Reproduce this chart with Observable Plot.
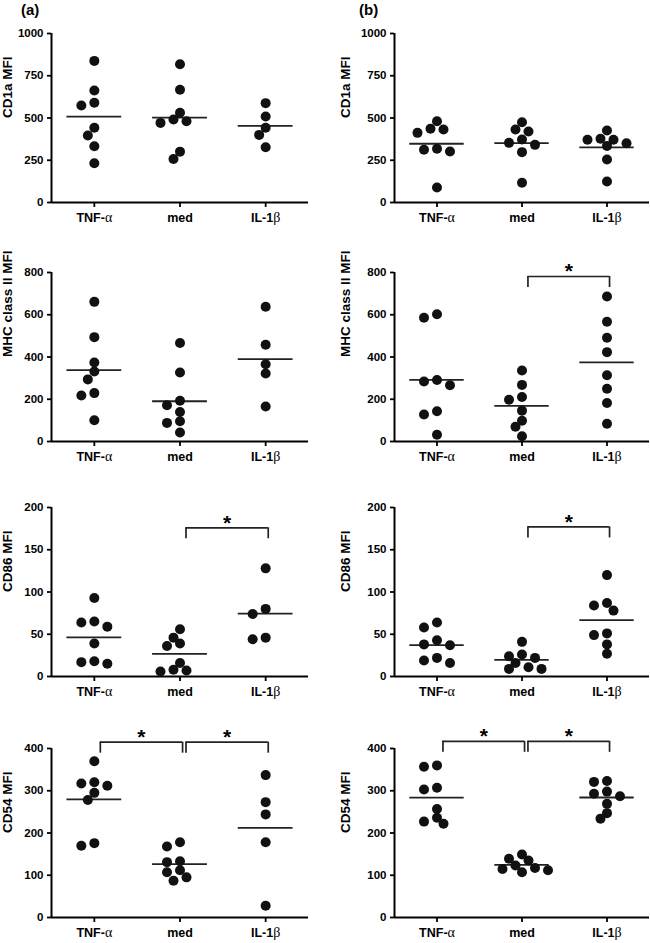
<!DOCTYPE html>
<html><head><meta charset="utf-8">
<script src="https://cdn.jsdelivr.net/npm/d3@7"></script>
<script src="https://cdn.jsdelivr.net/npm/@observablehq/plot@0.6"></script>
<style>
html,body{margin:0;padding:0;background:#fff;}
body{font-family:"Liberation Sans",Arial,sans-serif;}
#fig{position:relative;width:650px;height:943px;overflow:hidden;}
.panel{position:absolute;}
.tag{position:absolute;font-weight:bold;font-size:15px;color:#000;}
</style></head>
<body><div id="fig"></div>
<script>
// categories
const groups = ["TNF-α", "med", "IL-1β"];
const panelTags = ["(a)", "(b)"];
const titles = ["CD1a MFI", "MHC class II MFI", "CD86 MFI", "CD54 MFI"];
// y tick labels
const yTicks_cd1a = [0, 250, 500, 750, 1000];
const yTicks_mhc = [0, 200, 400, 600, 800];
const yTicks_cd86 = [0, 50, 100, 150, 200];
const yTicks_cd54 = [0, 100, 200, 300, 400];
// values per group [TNF-α, med, IL-1β]
const a_cd1a = [[838, 663, 590, 574, 442, 396, 333, 232], [818, 667, 531, 491, 481, 471, 301, 257], [588, 509, 442, 400, 327]];
const b_cd1a = [[481, 436, 432, 412, 318, 312, 302, 89], [475, 432, 420, 373, 353, 341, 298, 117], [426, 377, 371, 371, 351, 335, 254, 124]];
const a_mhc = [[661, 494, 374, 331, 294, 229, 218, 101], [466, 327, 193, 172, 140, 96, 88, 43], [638, 458, 366, 322, 166]];
const b_mhc = [[602, 586, 291, 284, 266, 143, 128, 32], [336, 268, 211, 198, 146, 98, 70, 25], [686, 567, 491, 423, 314, 250, 182, 84]];
const a_cd86 = [[93, 65, 64, 59, 39, 18, 17, 15], [56, 46, 39, 36, 16, 8, 7, 6], [128, 80, 74, 46, 44]];
const b_cd86 = [[64, 58, 43, 38, 37, 22, 19, 16], [41, 26, 24, 22, 16, 11, 9, 9], [120, 87, 84, 78, 51, 49, 38, 27]];
const a_cd54 = [[370, 320, 317, 312, 295, 278, 176, 170], [178, 168, 133, 131, 112, 107, 95, 87], [337, 273, 244, 178, 28]];
const b_cd54 = [[360, 357, 307, 303, 257, 236, 227, 222], [149, 139, 135, 123, 117, 115, 112, 107], [323, 321, 298, 293, 287, 269, 247, 234]];
// significance brackets (level in data units)
const sig_b_mhc = [{from: "med", to: "IL-1β", level: 781}];
const sig_a_cd86 = [{from: "med", to: "IL-1β", level: 176}];
const sig_b_cd86 = [{from: "med", to: "IL-1β", level: 177}];
const sig_a_cd54 = [{from: "TNF-α", to: "med", level: 415}, {from: "med", to: "IL-1β", level: 415}];
const sig_b_cd54 = [{from: "TNF-α", to: "med", level: 417}, {from: "med", to: "IL-1β", level: 417}];

const panels = [
  {col: 0, row: 0, data: a_cd1a, ticks: yTicks_cd1a, title: titles[0], sig: []},
  {col: 1, row: 0, data: b_cd1a, ticks: yTicks_cd1a, title: titles[0], sig: []},
  {col: 0, row: 1, data: a_mhc, ticks: yTicks_mhc, title: titles[1], sig: []},
  {col: 1, row: 1, data: b_mhc, ticks: yTicks_mhc, title: titles[1], sig: sig_b_mhc},
  {col: 0, row: 2, data: a_cd86, ticks: yTicks_cd86, title: titles[2], sig: sig_a_cd86},
  {col: 1, row: 2, data: b_cd86, ticks: yTicks_cd86, title: titles[2], sig: sig_b_cd86},
  {col: 0, row: 3, data: a_cd54, ticks: yTicks_cd54, title: titles[3], sig: sig_a_cd54},
  {col: 1, row: 3, data: b_cd54, ticks: yTicks_cd54, title: titles[3], sig: sig_b_cd54}
];

// layout
const rowLayout = [{top: 0, mt: 33}, {top: 235, mt: 37}, {top: 470, mt: 37}, {top: 710, mt: 38}];
const colLayout = [{left: 0, ml: 51, mr: 17, titleDx: -44}, {left: 325, ml: 69, mr: 1, titleDx: -49}];
const W = 325, FH = 169, MB = 26;
const ink = "#111";

function dodge(vals, pxPerUnit) {
  const order = vals.map((v, i) => i).sort((a, b) => vals[b] - vals[a]);
  const cands = [0];
  for (let k = 1; k <= 10; k++) cands.push(-k * 6.5, k * 6.5);
  const placed = [], off = new Array(vals.length).fill(0);
  for (const i of order) {
    const y = vals[i] * pxPerUnit;
    for (const c of cands) {
      if (placed.every(p => Math.hypot(p.x - c, p.y - y) >= 8.5)) {
        off[i] = c; placed.push({x: c, y}); break;
      }
    }
  }
  return off;
}

const fig = document.getElementById("fig");
const NS = "http://www.w3.org/2000/svg";

for (const p of panels) {
  const R = rowLayout[p.row], C = colLayout[p.col];
  const ymax = p.ticks[p.ticks.length - 1];
  const height = R.mt + FH + MB;
  const step = (W - C.ml - C.mr) / 3;
  const pxPerUnit = FH / ymax;
  const points = [], means = [];
  p.data.forEach((vals, gi) => {
    const off = dodge(vals, pxPerUnit);
    vals.forEach((v, i) => points.push({gi, v, x: gi + off[i] / step}));
    means.push({gi, mean: d3.mean(vals)});
  });
  const sig = p.sig.map(s => ({i1: groups.indexOf(s.from), i2: groups.indexOf(s.to), level: s.level}));
  const ends = sig.flatMap(s => [{x: s.i1 + 0.07, level: s.level}, {x: s.i2 + 0.03, level: s.level}]);
  const drop = 11 / pxPerUnit;

  const plot = Plot.plot({
    width: W, height,
    marginTop: R.mt, marginBottom: MB, marginLeft: C.ml, marginRight: C.mr,
    style: {fontFamily: "'Liberation Sans', Arial, sans-serif", color: "#000", background: "transparent", overflow: "visible"},
    x: {domain: [-0.5, 2.5]},
    y: {domain: [0, ymax]},
    marks: [
      Plot.axisY({ticks: p.ticks, tickFormat: d => String(d), tickSize: 4, tickPadding: 4, fontSize: 11.5, fontWeight: "bold", strokeWidth: 1.8, label: null}),
      Plot.axisX({ticks: [0, 1, 2], tickFormat: i => groups[i], tickSize: 5, tickPadding: 6, fontSize: 12.5, fontWeight: "bold", strokeWidth: 1.8, label: null}),
      Plot.ruleY([0], {stroke: "#000", strokeWidth: 2}),
      Plot.ruleX([-0.5], {stroke: "#000", strokeWidth: 2}),
      Plot.ruleY(means, {y: "mean", x1: d => d.gi - 0.32, x2: d => d.gi + 0.32, stroke: "#222", strokeWidth: 1.8}),
      Plot.dot(points, {x: "x", y: "v", r: 5, fill: ink, stroke: null}),
      Plot.ruleY(sig, {y: "level", x1: d => d.i1 + 0.07, x2: d => d.i2 + 0.03, stroke: "#222", strokeWidth: 1.7}),
      Plot.ruleX(ends, {x: "x", y1: "level", y2: d => d.level - drop, stroke: "#222", strokeWidth: 1.7}),
      Plot.text(sig, {x: d => (d.i1 + 0.07 + d.i2 + 0.03) / 2, y: "level", text: () => "*", fontSize: 21, fontWeight: "bold", dy: -5, fill: "#000"}),
      Plot.text([p.title], {frameAnchor: "left", rotate: -90, dx: C.titleDx, fontSize: 13.5, fontWeight: "bold", fill: "#000"})
    ]
  });
  // Greek letters in a serif face, as in the original
  plot.querySelectorAll("text").forEach(t => {
    const s = t.textContent;
    if (/[αβ]/.test(s) && t.children.length === 0) {
      t.textContent = "";
      for (const part of s.split(/([αβ])/)) {
        if (!part) continue;
        const ts = document.createElementNS(NS, "tspan");
        ts.textContent = part;
        if (/[αβ]/.test(part)) {
          ts.setAttribute("font-family", "'Liberation Serif', 'DejaVu Serif', serif");
          ts.setAttribute("font-weight", "normal");
          ts.setAttribute("font-size", "14");
        }
        t.appendChild(ts);
      }
    }
  });
  const div = document.createElement("div");
  div.className = "panel";
  div.style.left = C.left + "px";
  div.style.top = R.top + "px";
  div.appendChild(plot);
  fig.appendChild(div);
}

panelTags.forEach((tag, c) => {
  const d = document.createElement("div");
  d.className = "tag";
  d.textContent = tag;
  d.style.left = (c === 0 ? 21 : 359) + "px";
  d.style.top = "1px";
  fig.appendChild(d);
});
</script>
</body></html>
